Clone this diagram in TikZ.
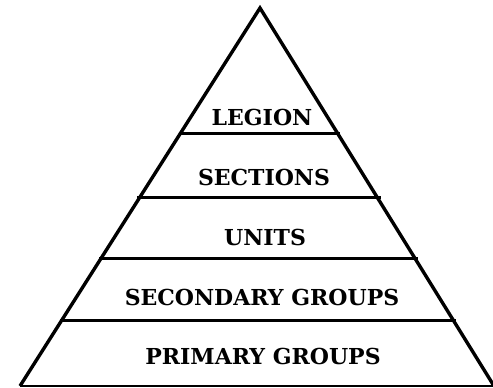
\documentclass[tikz,border=0pt]{standalone}
\usepackage{fontspec}
\newfontfamily\pyrfont{DejaVu Serif}
\usetikzlibrary{calc}
\tikzset{
  side/.style={line width=3.4pt, line join=miter},
  tier/.style={line width=3pt, shorten <=-2pt, shorten >=-3pt},
  baseline/.style={line width=2.6pt},
  label/.style={font=\pyrfont\fontsize{22}{26}\selectfont\bfseries, inner sep=0pt}
}
\begin{document}
\begin{tikzpicture}[x=1pt,y=-1pt]
\useasboundingbox (0,0) rectangle (493,388);
\coordinate (apex) at (260,8);
\coordinate (bl) at (20,386);
\coordinate (br) at (494,386);
\draw[side] (bl) -- (apex) -- (br);
\draw[baseline] (bl) -- (br);
\foreach \t/\n in {0.3307/1,0.5026/2,0.6614/3,0.8254/4}{
  \coordinate (l\n) at ($(apex)!\t!(bl)$);
  \coordinate (r\n) at ($(apex)!\t!(br)$);
  \draw[tier] (l\n) -- (r\n);
}
\node[label] (legion) at (262,117) {LEGION};
\node[label] (sections) at (264,177) {SECTIONS};
\node[label] (units) at (265,237) {UNITS};
\node[label] (secondary) at (262,297) {SECONDARY GROUPS};
\node[label] (primary) at (263,356) {PRIMARY GROUPS};
\end{tikzpicture}
\end{document}
